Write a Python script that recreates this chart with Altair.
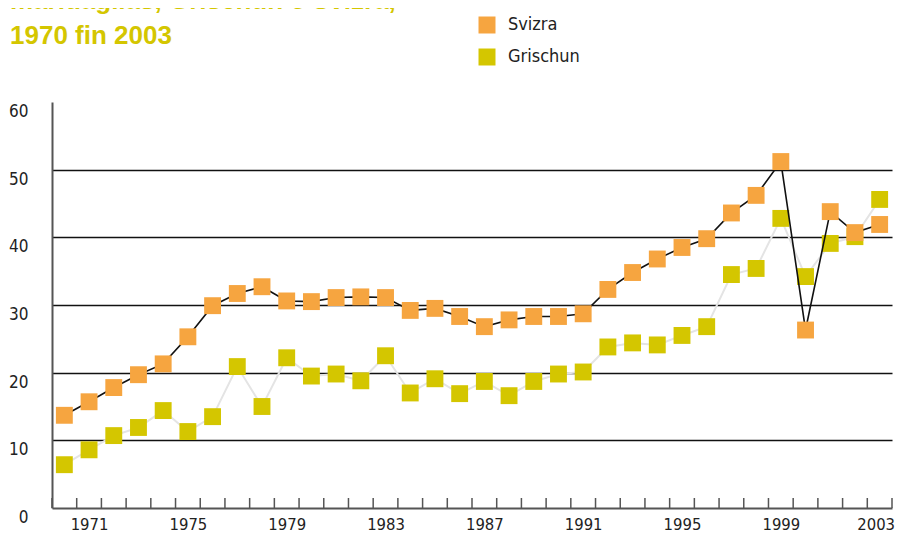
import altair as alt
import pandas as pd

years = list(range(1970, 2004))
svizra = [13.7, 15.7, 17.8, 19.7, 21.3, 25.3, 29.9, 31.7, 32.7, 30.6,
          30.5, 31.1, 31.2, 31.1, 29.2, 29.5, 28.3, 26.8, 27.8, 28.3,
          28.3, 28.7, 32.3, 34.8, 36.8, 38.5, 39.8, 43.6, 46.2, 51.2,
          26.3, 43.8, 40.7, 41.9]
grischun = [6.4, 8.6, 10.7, 11.9, 14.4, 11.3, 13.5, 20.9, 15.0, 22.2,
            19.5, 19.8, 18.8, 22.5, 17.0, 19.1, 16.9, 18.7, 16.6, 18.7,
            19.8, 20.1, 23.8, 24.4, 24.1, 25.5, 26.8, 34.5, 35.4, 42.8,
            34.2, 39.1, 40.1, 45.6]
series = ["Svizra", "Grischun"]
colors = ["#F6A540", "#D4C600"]
label_years = [1971, 1975, 1979, 1983, 1987, 1991, 1995, 1999, 2003]
y_ticks = [0, 10, 20, 30, 40, 50, 60]
title_lines = ["maridaglias, Grischun e Svizra,", "1970 fin 2003"]

df = pd.DataFrame({
    "Year": years * 2,
    "Value": svizra + grischun,
    "Serie": ["Svizra"] * len(years) + ["Grischun"] * len(years),
})
tick_df = pd.DataFrame({"b": [y - 0.5 for y in years] + [years[-1] + 0.5]})

W, H = 840, 406
FONT = "Liberation Sans Narrow, DejaVu Sans Condensed, sans-serif"

xscale = alt.Scale(domain=[1969.5, 2003.5], nice=False, zero=False)
yscale = alt.Scale(domain=[0, 60], nice=False)

xaxis = alt.Axis(values=label_years, format="d", ticks=False, grid=False,
                 domainColor="#555555", domainWidth=2, labelFont=FONT,
                 labelFontSize=16.5, labelColor="#222222", labelPadding=8,
                 labelOffset={"condition": {"test": "datum.value == 2003", "value": -4}, "value": 0},
                 labelFlush=False, title=None)
yaxis = alt.Axis(values=y_ticks, ticks=False, grid=True,
                 gridColor="#111111", gridWidth=1.6,
                 gridOpacity={"condition": {"test": "datum.value == 60 || datum.value == 0", "value": 0}, "value": 1},
                 domainColor="#555555", domainWidth=2, labelFont=FONT,
                 labelFontSize=17, labelColor="#222222", labelPadding=24,
                 labelOffset=9.5, labelFlush=False, title=None)

base = alt.Chart(df)

line_g = base.transform_filter(alt.datum.Serie == "Grischun").mark_line(
    color="#E4E4E4", strokeWidth=2).encode(
    x=alt.X("Year:Q", scale=xscale, axis=xaxis),
    y=alt.Y("Value:Q", scale=yscale, axis=yaxis))

line_s = base.transform_filter(alt.datum.Serie == "Svizra").mark_line(
    color="#111111", strokeWidth=1.6).encode(
    x=alt.X("Year:Q", scale=xscale),
    y=alt.Y("Value:Q", scale=yscale))

squares = base.mark_square(size=285, opacity=1).encode(
    x=alt.X("Year:Q", scale=xscale),
    y=alt.Y("Value:Q", scale=yscale),
    color=alt.Color("Serie:N", scale=alt.Scale(domain=series, range=colors),
                    legend=alt.Legend(orient="none", legendX=426, legendY=-86,
                                      title=None, symbolType="square",
                                      symbolSize=289, symbolStrokeWidth=0,
                                      labelFont=FONT, labelFontSize=18,
                                      labelColor="#222222", labelOffset=12,
                                      rowPadding=14)),
)

ticks = alt.Chart(tick_df).mark_rule(color="#555555", strokeWidth=1.5).encode(
    x=alt.X("b:Q", scale=xscale),
    y=alt.value(H - 10), y2=alt.value(H))

chart = alt.layer(line_g, ticks, squares.transform_filter(alt.datum.Serie == "Grischun"),
                  line_s, squares.transform_filter(alt.datum.Serie == "Svizra")).properties(
    width=W, height=H,
    title=alt.TitleParams(text=title_lines, anchor="start", frame="group",
                          font="Liberation Sans, Arial, sans-serif",
                          fontWeight="bold", fontSize=26, color="#D4C600",
                          lineHeight=35, dx=-42, dy=37),
    autosize=alt.AutoSizeParams(type="none"),
    padding={"left": 44, "top": 94, "right": 3, "bottom": 25},
    background="white",
).configure_view(stroke=None)

chart.save("out.html", embed_options={"renderer": "svg", "actions": False})
